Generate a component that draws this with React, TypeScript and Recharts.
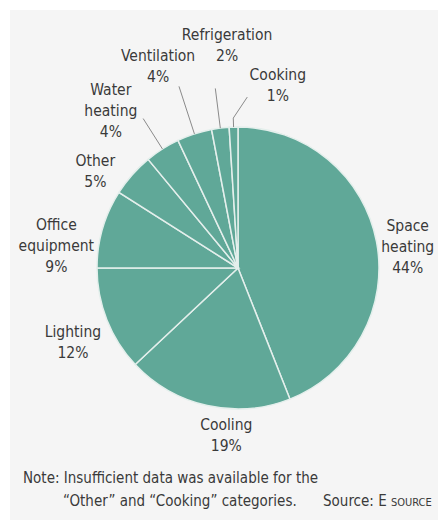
import { PieChart, Pie, Cell } from 'recharts';

const categories = [
  'Space heating',
  'Cooling',
  'Lighting',
  'Office equipment',
  'Other',
  'Water heating',
  'Ventilation',
  'Refrigeration',
  'Cooking',
];
const shares = [44, 19, 12, 9, 5, 4, 4, 2, 1];
const labelLines = [
  ['Space', 'heating'],
  ['Cooling'],
  ['Lighting'],
  ['Office', 'equipment'],
  ['Other'],
  ['Water', 'heating'],
  ['Ventilation'],
  ['Refrigeration'],
  ['Cooking'],
];
const noteLines = ['Note: Insufficient data was available for the', '\u201cOther\u201d and \u201cCooking\u201d categories.'];
const sourceText = 'Source: E ';
const sourceName = 'Source';

const data = categories.map((name, i) => ({ name, value: shares[i] }));

const FONT = '"DejaVu Sans Condensed", "Liberation Sans Narrow", sans-serif';
const TEXT = '#3a3a3a';
const TEAL = '#60a898';
const LINE_H = 21;

// where each label block sits: angle nudge (deg, clockwise) and distance from centre
const labelPlace = [
  { da: 3.8, r: 171 },
  { da: -8.6, r: 168 },
  { da: -2.6, r: 181 },
  { da: -9.2, r: 183 },
  { da: -7.4, r: 172 },
  { da: -6.6, r: 202 },
  { da: -3.6, r: 217 },
  { da: 4.4, r: 223 },
  { da: 14.1, r: 187 },
];
// leader line length past the rim, plus an optional bend toward the label
const leaders: Array<{ len: number; bend?: [number, number] } | null> = [
  null, null, null, null, null,
  { len: 36 },
  { len: 50 },
  { len: 40 },
  { len: 9, bend: [14, -21] },
];

const renderLabel = (props: any) => {
  const { cx, cy, midAngle, outerRadius, index } = props;
  const place = labelPlace[index];
  const a = ((midAngle - place.da) * Math.PI) / 180;
  const x = cx + place.r * Math.cos(a);
  const y = cy - place.r * Math.sin(a);
  const lines = [...labelLines[index], `${shares[index]}%`];
  const top = y - ((lines.length - 1) * LINE_H) / 2;

  const lead = leaders[index];
  let path = null;
  if (lead) {
    const m = (midAngle * Math.PI) / 180;
    const x1 = cx + outerRadius * Math.cos(m);
    const y1 = cy - outerRadius * Math.sin(m);
    const x2 = cx + (outerRadius + lead.len) * Math.cos(m);
    const y2 = cy - (outerRadius + lead.len) * Math.sin(m);
    let d = `M${x1},${y1}L${x2},${y2}`;
    if (lead.bend) d += `L${x2 + lead.bend[0]},${y2 + lead.bend[1]}`;
    path = <path d={d} stroke="#8a8a8a" strokeWidth={1} fill="none" />;
  }

  return (
    <g key={`lbl-${index}`}>
      {path}
      <text
        x={x}
        y={top}
        textAnchor="middle"
        dominantBaseline="central"
        fontFamily={FONT}
        fontSize={15.5}
        fill={TEXT}
      >
        {lines.map((t, i) => (
          <tspan key={i} x={x} dy={i === 0 ? 0 : LINE_H}>
            {t}
          </tspan>
        ))}
      </text>
    </g>
  );
};

export default function App() {
  return (
    <div style={{ position: 'absolute', left: 0, top: 0, width: 438, height: 520, background: '#fff', overflow: 'hidden' }}>
      <div style={{ position: 'absolute', left: 10, top: 10, width: 428, height: 510, background: '#f5f5f5' }} />
      <div style={{ position: 'absolute', left: 0, top: 0 }}>
        <PieChart width={438} height={520} margin={{ top: 0, right: 0, bottom: 0, left: 0 }}>
          <Pie
            data={data}
            dataKey="value"
            nameKey="name"
            cx={238}
            cy={268}
            outerRadius={141}
            startAngle={90}
            endAngle={-270}
            stroke="#e4efec"
            strokeWidth={1.5}
            label={renderLabel}
            labelLine={false}
            isAnimationActive={false}
          >
            {data.map((d) => (
              <Cell key={d.name} fill={TEAL} />
            ))}
          </Pie>
        </PieChart>
      </div>
      <div style={{ position: 'absolute', left: 23, top: 467, fontFamily: FONT, fontSize: 15, color: TEXT, lineHeight: '23px', whiteSpace: 'nowrap' }}>
        <div>{noteLines[0]}</div>
        <div style={{ paddingLeft: 40 }}>{noteLines[1]}</div>
      </div>
      <div style={{ position: 'absolute', left: 323, top: 490, fontFamily: FONT, fontSize: 15, color: TEXT, lineHeight: '23px', whiteSpace: 'nowrap' }}>
        {sourceText}
        <span style={{ fontVariant: 'small-caps', textTransform: 'lowercase' }}>{sourceName}</span>
      </div>
    </div>
  );
}
